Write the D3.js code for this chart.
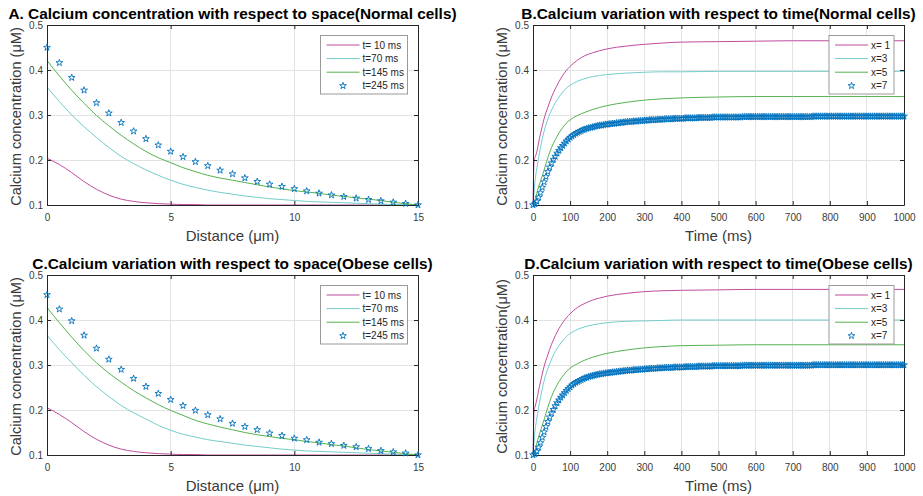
<!DOCTYPE html>
<html>
<head>
<meta charset="utf-8">
<script src="https://cdn.jsdelivr.net/npm/d3@7"></script>
<style>
  body { margin: 0; background: #fff; }
  svg { font-family: "Liberation Sans", Arial, Helvetica, sans-serif; }
</style>
</head>
<body>
<div id="app"></div>
<script>
// ---------- data ----------
const concTicks = [0.1, 0.2, 0.3, 0.4, 0.5];
const spaceTicks = [0, 5, 10, 15];
const timeTicks = [0, 100, 200, 300, 400, 500, 600, 700, 800, 900, 1000];

const spaceLegend = ["t= 10 ms", "t=70 ms", "t=145 ms", "t=245 ms"];
const timeLegend = ["x= 1", "x=3", "x=5", "x=7"];

// distance grid (µm), shared by lines and stars of panels A and C
const distance = [0, 0.5, 1, 1.5, 2, 2.5, 3, 3.5, 4, 4.5, 5, 5.5, 6, 6.5, 7, 7.5,
  8, 8.5, 9, 9.5, 10, 10.5, 11, 11.5, 12, 12.5, 13, 13.5, 14, 14.5, 15];

// A. normal cells, concentration vs distance
const normalT10 = [0.204, 0.19, 0.172, 0.152, 0.135, 0.122, 0.113, 0.108, 0.105, 0.103, 0.102, 0.101, 0.101,
  0.1, 0.1, 0.1, 0.1, 0.1, 0.1, 0.1, 0.1, 0.1, 0.1, 0.1, 0.1, 0.1, 0.1, 0.1, 0.1, 0.1, 0.1];
const normalT70 = [0.362, 0.33, 0.3, 0.274, 0.25, 0.228, 0.208, 0.192, 0.178, 0.166, 0.155, 0.146, 0.139,
  0.133, 0.128, 0.124, 0.12, 0.117, 0.114, 0.112, 0.11, 0.108, 0.107, 0.106, 0.105, 0.104, 0.103, 0.102,
  0.101, 0.1005, 0.1];
const normalT145 = [0.421, 0.387, 0.355, 0.326, 0.299, 0.276, 0.255, 0.236, 0.219, 0.205, 0.194, 0.183,
  0.174, 0.166, 0.16, 0.155, 0.15, 0.145, 0.14, 0.136, 0.132, 0.129, 0.126, 0.122, 0.119, 0.116, 0.113,
  0.11, 0.106, 0.103, 0.1];
const normalT245 = [0.45, 0.416, 0.383, 0.355, 0.327, 0.304, 0.283, 0.264, 0.247, 0.233, 0.219, 0.207,
  0.196, 0.187, 0.177, 0.169, 0.16, 0.152, 0.146, 0.141, 0.136, 0.131, 0.126, 0.122, 0.1185, 0.115,
  0.112, 0.109, 0.106, 0.103, 0.1];

// C. obese cells, concentration vs distance
const obeseT10 = [0.205, 0.19, 0.172, 0.152, 0.135, 0.122, 0.113, 0.108, 0.105, 0.103, 0.102, 0.101, 0.101,
  0.1, 0.1, 0.1, 0.1, 0.1, 0.1, 0.1, 0.1, 0.1, 0.1, 0.1, 0.1, 0.1, 0.1, 0.1, 0.1, 0.1, 0.1];
const obeseT70 = [0.366, 0.334, 0.305, 0.277, 0.252, 0.23, 0.21, 0.194, 0.18, 0.166, 0.155, 0.146, 0.14,
  0.134, 0.13, 0.126, 0.122, 0.119, 0.116, 0.113, 0.111, 0.109, 0.108, 0.107, 0.106, 0.105, 0.104, 0.103,
  0.102, 0.101, 0.1];
const obeseT145 = [0.428, 0.394, 0.362, 0.332, 0.305, 0.282, 0.262, 0.243, 0.227, 0.212, 0.199, 0.188,
  0.177, 0.169, 0.162, 0.156, 0.15, 0.145, 0.141, 0.137, 0.134, 0.13, 0.127, 0.123, 0.12, 0.116, 0.112,
  0.109, 0.106, 0.103, 0.1];
const obeseT245 = [0.456, 0.424, 0.398, 0.366, 0.337, 0.3125, 0.29, 0.27, 0.252, 0.2365, 0.223, 0.2096,
  0.199, 0.189, 0.18, 0.17, 0.163, 0.156, 0.1485, 0.143, 0.137, 0.1336, 0.128, 0.125, 0.121, 0.118,
  0.114, 0.1096, 0.1067, 0.104, 0.1];

// time grid (ms) for the three solid lines of panels B and D
const lineTimes = [0, 3, 5, 10, 15, 20, 25, 30, 40, 50, 60, 70, 80, 90, 100, 120, 140, 160, 180, 200,
  250, 300, 350, 400, 500, 600, 700, 800, 900, 1000];

// B. normal cells, concentration vs time
const normalX1 = [0.1, 0.2, 0.205, 0.217, 0.238, 0.258, 0.275, 0.292, 0.317, 0.34, 0.358, 0.374, 0.388,
  0.399, 0.408, 0.422, 0.432, 0.438, 0.443, 0.447, 0.453, 0.457, 0.46, 0.462, 0.463, 0.464, 0.465, 0.465,
  0.465, 0.465];
const normalX3 = [0.1, 0.13, 0.15, 0.18, 0.205, 0.227, 0.247, 0.264, 0.291, 0.311, 0.327, 0.34, 0.351,
  0.36, 0.366, 0.375, 0.381, 0.385, 0.388, 0.39, 0.393, 0.395, 0.396, 0.396, 0.397, 0.397, 0.397, 0.397,
  0.397, 0.397];
const normalX5 = [0.1, 0.105, 0.11, 0.125, 0.14, 0.152, 0.165, 0.178, 0.205, 0.228, 0.245, 0.26, 0.272,
  0.282, 0.289, 0.299, 0.306, 0.312, 0.317, 0.321, 0.328, 0.333, 0.336, 0.338, 0.34, 0.341, 0.341, 0.341,
  0.341, 0.341];

// D. obese cells, concentration vs time
const obeseX1 = [0.1, 0.2, 0.206, 0.222, 0.243, 0.262, 0.28, 0.297, 0.323, 0.346, 0.365, 0.381, 0.394,
  0.405, 0.414, 0.428, 0.437, 0.444, 0.449, 0.453, 0.459, 0.463, 0.465, 0.466, 0.467, 0.468, 0.468, 0.468,
  0.468, 0.468];
const obeseX3 = [0.1, 0.13, 0.15, 0.18, 0.205, 0.227, 0.247, 0.265, 0.292, 0.313, 0.33, 0.343, 0.354,
  0.363, 0.37, 0.379, 0.385, 0.389, 0.392, 0.394, 0.397, 0.398, 0.399, 0.4, 0.4, 0.4, 0.4, 0.4, 0.4, 0.4];
const obeseX5 = [0.1, 0.105, 0.11, 0.125, 0.14, 0.153, 0.166, 0.179, 0.206, 0.23, 0.248, 0.263, 0.275,
  0.285, 0.293, 0.303, 0.311, 0.317, 0.322, 0.326, 0.333, 0.338, 0.341, 0.343, 0.344, 0.345, 0.345, 0.345,
  0.345, 0.345];

// star series x=7 is sampled every 5 ms
const starTimes = d3.range(0, 1001, 5);
const normalX7 = [
  0.100, 0.102, 0.108, 0.117, 0.127, 0.139, 0.151, 0.163, 0.174, 0.184,
  0.193, 0.201, 0.208, 0.215, 0.221, 0.227, 0.232, 0.237, 0.242, 0.246,
  0.250, 0.253, 0.256, 0.259, 0.261, 0.263, 0.265, 0.267, 0.268, 0.270,
  0.271, 0.272, 0.273, 0.274, 0.275, 0.276, 0.277, 0.277, 0.278, 0.279,
  0.279,
  0.280, 0.280, 0.281, 0.281, 0.282, 0.282, 0.283, 0.283, 0.284, 0.284,
  0.285, 0.285, 0.285, 0.286, 0.286, 0.286, 0.287, 0.287, 0.287, 0.288,
  0.288, 0.288, 0.289, 0.289, 0.289, 0.289, 0.290, 0.290, 0.290, 0.290,
  0.291, 0.291, 0.291, 0.291, 0.291, 0.292, 0.292, 0.292, 0.292, 0.292,
  0.292, 0.293, 0.293, 0.293, 0.293, 0.293, 0.293, 0.293, 0.294, 0.294,
  0.294, 0.294, 0.294, 0.294, 0.294, 0.294, 0.295, 0.295, 0.295, 0.295,
  0.295, 0.295, 0.295, 0.295, 0.295, 0.295, 0.295, 0.295, 0.295, 0.295,
  0.295, 0.295, 0.296, 0.296, 0.296, 0.296, 0.296, 0.296, 0.296, 0.296,
  0.296, 0.296, 0.296, 0.296, 0.296, 0.296, 0.296, 0.296, 0.296, 0.296,
  0.296, 0.296, 0.296, 0.296, 0.296, 0.296, 0.296, 0.296, 0.296, 0.296,
  0.296, 0.296, 0.296, 0.296, 0.296, 0.296, 0.296, 0.296, 0.296, 0.296,
  0.297, 0.297, 0.297, 0.297, 0.297, 0.297, 0.297, 0.297, 0.297, 0.297,
  0.297, 0.297, 0.297, 0.297, 0.297, 0.297, 0.297, 0.297, 0.297, 0.297,
  0.297, 0.297, 0.297, 0.297, 0.297, 0.297, 0.297, 0.297, 0.297, 0.297,
  0.297, 0.297, 0.297, 0.297, 0.297, 0.297, 0.297, 0.297, 0.297, 0.297,
  0.297, 0.297, 0.297, 0.297, 0.297, 0.297, 0.297, 0.297, 0.297, 0.297
];
const obeseX7 = [
  0.100, 0.102, 0.108, 0.117, 0.127, 0.139, 0.151, 0.163, 0.174, 0.184,
  0.193, 0.201, 0.209, 0.216, 0.222, 0.228, 0.233, 0.238, 0.243, 0.247,
  0.251, 0.255, 0.258, 0.261, 0.263, 0.265, 0.267, 0.269, 0.271, 0.272,
  0.274, 0.275, 0.276, 0.277, 0.278, 0.279, 0.280, 0.280, 0.281, 0.282,
  0.282,
  0.283, 0.283, 0.284, 0.284, 0.285, 0.285, 0.286, 0.286, 0.287, 0.287,
  0.288, 0.288, 0.288, 0.289, 0.289, 0.289, 0.290, 0.290, 0.290, 0.291,
  0.291, 0.291, 0.292, 0.292, 0.292, 0.292, 0.293, 0.293, 0.293, 0.293,
  0.294, 0.294, 0.294, 0.294, 0.294, 0.295, 0.295, 0.295, 0.295, 0.295,
  0.295, 0.296, 0.296, 0.296, 0.296, 0.296, 0.296, 0.296, 0.297, 0.297,
  0.297, 0.297, 0.297, 0.297, 0.297, 0.297, 0.298, 0.298, 0.298, 0.298,
  0.298, 0.298, 0.298, 0.298, 0.298, 0.298, 0.298, 0.298, 0.298, 0.298,
  0.298, 0.298, 0.299, 0.299, 0.299, 0.299, 0.299, 0.299, 0.299, 0.299,
  0.299, 0.299, 0.299, 0.299, 0.299, 0.299, 0.299, 0.299, 0.299, 0.299,
  0.299, 0.299, 0.299, 0.299, 0.299, 0.299, 0.299, 0.299, 0.299, 0.299,
  0.299, 0.299, 0.299, 0.299, 0.299, 0.299, 0.299, 0.299, 0.299, 0.299,
  0.300, 0.300, 0.300, 0.300, 0.300, 0.300, 0.300, 0.300, 0.300, 0.300,
  0.300, 0.300, 0.300, 0.300, 0.300, 0.300, 0.300, 0.300, 0.300, 0.300,
  0.300, 0.300, 0.300, 0.300, 0.300, 0.300, 0.300, 0.300, 0.300, 0.300,
  0.300, 0.300, 0.300, 0.300, 0.300, 0.300, 0.300, 0.300, 0.300, 0.300,
  0.300, 0.300, 0.300, 0.300, 0.300, 0.300, 0.300, 0.300, 0.300, 0.300
];

// ---------- styles ----------
const lineColors = ["#c04c9e", "#74cccc", "#55b24f"];
const starColor = "#0072bd";
const axisColor = "#262626";
const gridColor = "#e3e3e3";
const starShape = d3.symbol(d3.symbolStar, 14);

const panels = [
  { title: "A. Calcium concentration with respect to space(Normal cells)",
    yLabel: "Calcium concentration (μM)", xLabel: "Distance (μm)",
    left: 47, top: 25, right: 418, bottom: 205,
    xDomain: [0, 15], xTicks: spaceTicks, xs: distance, lines: [normalT10, normalT70, normalT145],
    starXs: distance, stars: normalT245, legend: spaceLegend, legendBox: [320.5, 35.5, 87, 58.5] },
  { title: "B.Calcium variation with respect to time(Normal cells)",
    yLabel: "Calcium concentration (μM)", xLabel: "Time (ms)",
    left: 533, top: 25, right: 904, bottom: 205,
    xDomain: [0, 1000], xTicks: timeTicks, xs: lineTimes, lines: [normalX1, normalX3, normalX5],
    starXs: starTimes, stars: normalX7, legend: timeLegend, legendBox: [829, 35.5, 65, 58.5] },
  { title: "C.Calcium variation with respect to space(Obese cells)",
    yLabel: "Calcium concentration (μM)", xLabel: "Distance (μm)",
    left: 47, top: 275, right: 418, bottom: 455,
    xDomain: [0, 15], xTicks: spaceTicks, xs: distance, lines: [obeseT10, obeseT70, obeseT145],
    starXs: distance, stars: obeseT245, legend: spaceLegend, legendBox: [320.5, 285.5, 87, 58.5] },
  { title: "D.Calcium variation with respect to time(Obese cells)",
    yLabel: "Calcium concentration(μM)", xLabel: "Time (ms)",
    left: 533, top: 275, right: 904, bottom: 455,
    xDomain: [0, 1000], xTicks: timeTicks, xs: lineTimes, lines: [obeseX1, obeseX3, obeseX5],
    starXs: starTimes, stars: obeseX7, legend: timeLegend, legendBox: [829, 285.5, 65, 58.5] }
];

const svg = d3.select("#app").append("svg")
  .attr("width", 923)
  .attr("height", 496);

function drawPanel(p) {
  const x = d3.scaleLinear().domain(p.xDomain).range([p.left, p.right]);
  const y = d3.scaleLinear().domain([0.1, 0.5]).range([p.bottom, p.top]);
  const g = svg.append("g");

  // grid
  const grid = g.append("g").attr("stroke", gridColor).attr("shape-rendering", "crispEdges");
  grid.selectAll(".gx").data(p.xTicks.slice(1, -1)).join("line")
    .attr("x1", d => x(d)).attr("x2", d => x(d))
    .attr("y1", p.top).attr("y2", p.bottom);
  grid.selectAll(".gy").data(concTicks.slice(1, -1)).join("line")
    .attr("x1", p.left).attr("x2", p.right)
    .attr("y1", d => y(d)).attr("y2", d => y(d));

  // solid lines
  const line = d3.line()
    .x(d => x(d[0]))
    .y(d => y(d[1]))
    .curve(d3.curveMonotoneX);
  p.lines.forEach((vals, k) => {
    g.append("path")
      .datum(vals.map((v, i) => [p.xs[i], v]))
      .attr("fill", "none")
      .attr("stroke", lineColors[k])
      .attr("stroke-width", 1)
      .attr("d", line);
  });

  // axes (ticks pointing inward on all four sides)
  const fmtX = d3.format("d");
  const fmtY = d3.format(".1f");
  const bottomAxis = g.append("g").attr("transform", `translate(0,${p.bottom})`)
    .call(d3.axisBottom(x).tickValues(p.xTicks).tickFormat(fmtX).tickSize(-4).tickSizeOuter(0).tickPadding(9));
  const leftAxis = g.append("g").attr("transform", `translate(${p.left},0)`)
    .call(d3.axisLeft(y).tickValues(concTicks).tickFormat(fmtY).tickSize(-4).tickSizeOuter(0).tickPadding(4));
  const topAxis = g.append("g").attr("transform", `translate(0,${p.top})`)
    .call(d3.axisTop(x).tickValues(p.xTicks).tickFormat("").tickSize(-4).tickSizeOuter(0));
  const rightAxis = g.append("g").attr("transform", `translate(${p.right},0)`)
    .call(d3.axisRight(y).tickValues(concTicks).tickFormat("").tickSize(-4).tickSizeOuter(0));

  [bottomAxis, leftAxis, topAxis, rightAxis].forEach(a => {
    a.selectAll("path, line").attr("stroke", axisColor).attr("stroke-width", 1);
    a.selectAll("text")
      .attr("fill", "#3a3a3a")
      .style("font-size", "10px")
      .style("font-family", "'Liberation Sans', Arial, sans-serif");
  });

  // stars drawn last, over the lines and the box
  g.append("g").selectAll("path")
    .data(p.stars.map((v, i) => [p.starXs[i], v]))
    .join("path")
    .attr("transform", d => `translate(${x(d[0])},${y(d[1])})`)
    .attr("d", starShape)
    .attr("fill", "none")
    .attr("stroke", starColor)
    .attr("stroke-width", 0.9);

  // labels
  const cx = (p.left + p.right) / 2;
  const cy = (p.top + p.bottom) / 2 + 1.5;
  g.append("text")
    .attr("x", cx).attr("y", p.top - 6)
    .attr("text-anchor", "middle")
    .style("font-size", "15.4px").style("font-weight", "bold")
    .attr("fill", "#000")
    .text(p.title);
  g.append("text")
    .attr("x", cx).attr("y", p.bottom + 36)
    .attr("text-anchor", "middle")
    .style("font-size", "15px")
    .attr("fill", "#3a3a3a")
    .text(p.xLabel);
  g.append("text")
    .attr("transform", `translate(${p.left - 26},${cy}) rotate(-90)`)
    .attr("text-anchor", "middle")
    .style("font-size", "14.6px")
    .attr("fill", "#3a3a3a")
    .text(p.yLabel);

  // legend
  const [lx, ly, lw, lh] = p.legendBox;
  const lg = g.append("g").attr("transform", `translate(${lx},${ly})`);
  lg.append("rect")
    .attr("width", lw).attr("height", lh)
    .attr("fill", "#fff")
    .attr("stroke", "#9a9a9a")
    .attr("stroke-width", 1);
  p.legend.forEach((label, k) => {
    const ry = 9.5 + k * 13.6;
    if (k < 3) {
      lg.append("line")
        .attr("x1", 6).attr("x2", 39)
        .attr("y1", ry).attr("y2", ry)
        .attr("stroke", lineColors[k])
        .attr("stroke-width", 1);
    } else {
      lg.append("path")
        .attr("transform", `translate(22.5,${ry})`)
        .attr("d", starShape)
        .attr("fill", "none")
        .attr("stroke", starColor)
        .attr("stroke-width", 0.9);
    }
    lg.append("text")
      .attr("x", 42).attr("y", ry)
      .attr("dy", "0.35em")
      .style("font-size", "10px")
      .attr("fill", "#262626")
      .text(label);
  });
}

panels.forEach(drawPanel);
</script>
</body>
</html>
